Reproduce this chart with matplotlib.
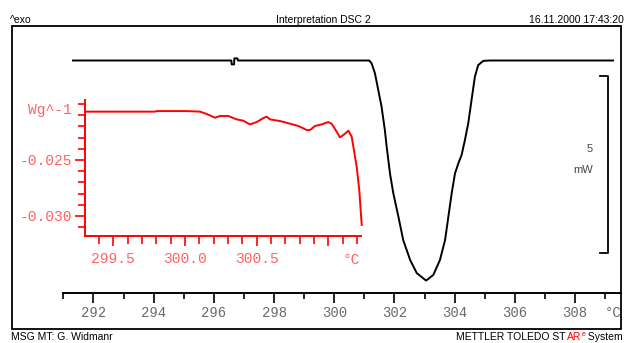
import matplotlib
matplotlib.use("Agg")
import matplotlib.pyplot as plt
from matplotlib.patches import Rectangle
from matplotlib.ticker import FixedLocator

# ---------------- data ----------------
# main DSC curve (heat flow, mW) vs temperature (°C)
main_temp = [291.32, 296.58, 296.59, 296.67, 296.68, 296.78, 296.80, 301.16,
             301.24, 301.35, 301.46, 301.57, 301.68, 301.74, 301.85, 301.96,
             302.13, 302.29, 302.52, 302.74, 303.05, 303.29, 303.51, 303.68,
             303.79, 303.90, 304.01, 304.12, 304.23, 304.34, 304.45, 304.56,
             304.67, 304.78, 304.95, 305.17, 309.26]
main_mw = [0.0, 0.0, -0.11, -0.11, 0.06, 0.06, 0.0, 0.0,
           -0.08, -0.36, -0.83, -1.30, -1.96, -2.43, -3.18, -3.74,
           -4.40, -5.06, -5.62, -5.99, -6.20, -6.04, -5.62, -5.06,
           -4.40, -3.74, -3.18, -2.90, -2.66, -2.24, -1.77, -1.11,
           -0.46, -0.13, -0.01, 0.0, 0.0]

# inset curve (normalised heat flow, W/g) vs temperature (°C)
inset_temp = [299.302, 299.791, 299.802, 300.012, 300.105, 300.151, 300.209,
              300.244, 300.302, 300.360, 300.407, 300.453, 300.500, 300.547,
              300.570, 300.593, 300.663, 300.733, 300.791, 300.849, 300.872,
              300.907, 300.953, 301.000, 301.023, 301.058, 301.081, 301.105,
              301.140, 301.163, 301.198, 301.216, 301.233]
inset_wg = [-0.02068, -0.02068, -0.02063, -0.02063, -0.02068, -0.02089, -0.02122,
            -0.02107, -0.02107, -0.02137, -0.02149, -0.02182, -0.02161, -0.02125,
            -0.02113, -0.02137, -0.02152, -0.02176, -0.02196, -0.02232, -0.02232,
            -0.02196, -0.02182, -0.02161, -0.02176, -0.02247, -0.02298, -0.02277,
            -0.02238, -0.02292, -0.02560, -0.02768, -0.03080]

main_major = [292, 294, 296, 298, 300, 302, 304, 306, 308]
main_minor = list(range(291, 310))
main_labels = ["292", "294", "296", "298", "300", "302", "304", "306", "308"]

inset_xmajor = [299.5, 300.0, 300.5, 301.0]
inset_xlabels = ["299.5", "300.0", "300.5", ""]
inset_xminor = [round(299.3 + 0.1 * i, 1) for i in range(20)]
inset_ymajor = [-0.025, -0.030]
inset_ylabels = ["-0.025", "-0.030"]
inset_yminor = [round(-0.020 - 0.001 * i, 3) for i in range(12)]

scale_bar_mw = 5
scale_bar_top = -0.43
scale_bar_x = 309.09
scale_bar_tick = 308.83

# ---------------- figure ----------------
W, H = 625, 343
fig = plt.figure(figsize=(W / 100, H / 100), dpi=100)
fig.patch.set_facecolor("white")


def fx(px):
    return px / W


def fy(py):
    return 1 - py / H


mono = "Liberation Mono"
sans = "Liberation Sans"

# frame
fig.add_artist(Rectangle((fx(12), fy(329)), fx(621) - fx(12), fy(26) - fy(329),
                         transform=fig.transFigure, fill=False, lw=1.3, ec="black"))

# main axes
ax = fig.add_axes([fx(63), fy(293), fx(621) - fx(63), fy(27) - fy(293)])
ax.patch.set_alpha(0)
ax.set_xlim(290.987, 309.525)
ax.set_ylim(-6.55, 0.944)
for s in ["top", "right", "left"]:
    ax.spines[s].set_visible(False)
ax.spines["bottom"].set_linewidth(1.4)
ax.set_yticks([])
ax.xaxis.set_major_locator(FixedLocator(main_major))
ax.xaxis.set_minor_locator(FixedLocator(main_minor))
ax.set_xticklabels(main_labels)
ax.tick_params(axis="x", which="major", length=7.2, width=1.2, pad=2.5,
               labelsize=10, labelcolor="#6a6a6a")
ax.tick_params(axis="x", which="minor", length=4, width=1.2)
for lbl in ax.get_xticklabels():
    lbl.set_fontfamily(mono)

ax.plot(main_temp, main_mw, color="black", lw=1.4, solid_joinstyle="round")

ax.annotate("°C", xy=(309.26, 0), xycoords=ax.get_xaxis_transform(),
            xytext=(0, -20 * 0.72), textcoords="offset points",
            ha="center", va="center", fontsize=10, color="#6a6a6a", family=mono)

# scale bar
ax.plot([scale_bar_tick, scale_bar_x, scale_bar_x, scale_bar_tick],
        [scale_bar_top, scale_bar_top, scale_bar_top - scale_bar_mw,
         scale_bar_top - scale_bar_mw], color="black", lw=1.3)
ax.text(308.50, -2.49, "5", ha="center", va="center", fontsize=8,
        color="#444444", family=sans)
ax.text(308.26, -3.08, "mW", ha="center", va="center", fontsize=8,
        color="#444444", family=sans)

# inset axes
red = "#ff0000"
lred = "#ff6262"
ax2 = fig.add_axes([fx(85), fy(236), fx(361) - fx(85), fy(100) - fy(236)])
ax2.patch.set_alpha(0)
ax2.set_xlim(299.302, 301.228)
ax2.set_ylim(-0.03179, -0.01964)
for s in ["top", "right"]:
    ax2.spines[s].set_visible(False)
for s in ["left", "bottom"]:
    ax2.spines[s].set_color(red)
    ax2.spines[s].set_linewidth(1.4)
ax2.xaxis.set_major_locator(FixedLocator(inset_xmajor))
ax2.xaxis.set_minor_locator(FixedLocator(inset_xminor))
ax2.set_xticklabels(inset_xlabels)
ax2.yaxis.set_major_locator(FixedLocator(inset_ymajor))
ax2.yaxis.set_minor_locator(FixedLocator(inset_yminor))
ax2.set_yticklabels(inset_ylabels)
ax2.tick_params(which="both", color=red, width=1.2, labelcolor=lred, labelsize=10.5)
ax2.tick_params(axis="x", which="major", length=7, pad=4.5)
ax2.tick_params(axis="x", which="minor", length=5.5)
ax2.tick_params(axis="y", which="major", length=7.2, pad=2)
ax2.tick_params(axis="y", which="minor", length=4.8)
for lbl in ax2.get_xticklabels() + ax2.get_yticklabels():
    lbl.set_fontfamily(mono)

ax2.plot(inset_temp, inset_wg, color=red, lw=1.4, clip_on=False)

ax2.annotate("Wg^-1", xy=(0, -0.02054), xycoords=ax2.get_yaxis_transform(),
             xytext=(-9.4, 0), textcoords="offset points", ha="right",
             va="center", fontsize=10.5, color=lred, family=mono)
ax2.annotate("°C", xy=(301.16, 0), xycoords=ax2.get_xaxis_transform(),
             xytext=(0, -24 * 0.72), textcoords="offset points",
             ha="center", va="center", fontsize=10.5, color=lred, family=mono)

# header / footer texts
fig.text(fx(10), fy(23), "^exo", fontsize=7.5, family=sans, va="baseline")
fig.text(fx(323), fy(23), "Interpretation DSC 2", fontsize=7.5, family=sans,
         ha="center", va="baseline")
fig.text(fx(624), fy(23), "16.11.2000 17:43:20", fontsize=7.5, family=sans,
         ha="right", va="baseline")
fig.text(fx(11), fy(340), "MSG MT: G. Widmanr", fontsize=7.5, family=sans,
         va="baseline")
t1 = fig.text(fx(467), fy(340), "METTLER TOLEDO ST", fontsize=7.5, family=sans,
              va="baseline")
t2 = fig.text(0, 0, "AR", fontsize=7.5, family=sans, color=red, va="baseline")
t3 = fig.text(0, 0, "e", fontsize=5, family=sans, color=red, va="baseline")
t4 = fig.text(0, 0, " System", fontsize=7.5, family=sans, va="baseline")

fig.canvas.draw()
r = fig.canvas.get_renderer()
inv = fig.transFigure.inverted()


def layout(x_start):
    t1.set_position((x_start, fy(340)))
    bb1 = t1.get_window_extent(r)
    x2 = inv.transform((bb1.x1 + 1.5, 0))[0]
    t2.set_position((x2, fy(340)))
    bb2 = t2.get_window_extent(r)
    x3 = inv.transform((bb2.x1 + 0.5, 0))[0]
    t3.set_position((x3, fy(336.5)))
    bb3 = t3.get_window_extent(r)
    x4 = inv.transform((bb3.x1, 0))[0]
    t4.set_position((x4, fy(340)))
    return t4.get_window_extent(r).x1


end = layout(fx(467))
if end > 623:
    shift = (end - 623) / W
    layout(fx(467) - shift)

fig.savefig("out.png", dpi=100, facecolor="white")
